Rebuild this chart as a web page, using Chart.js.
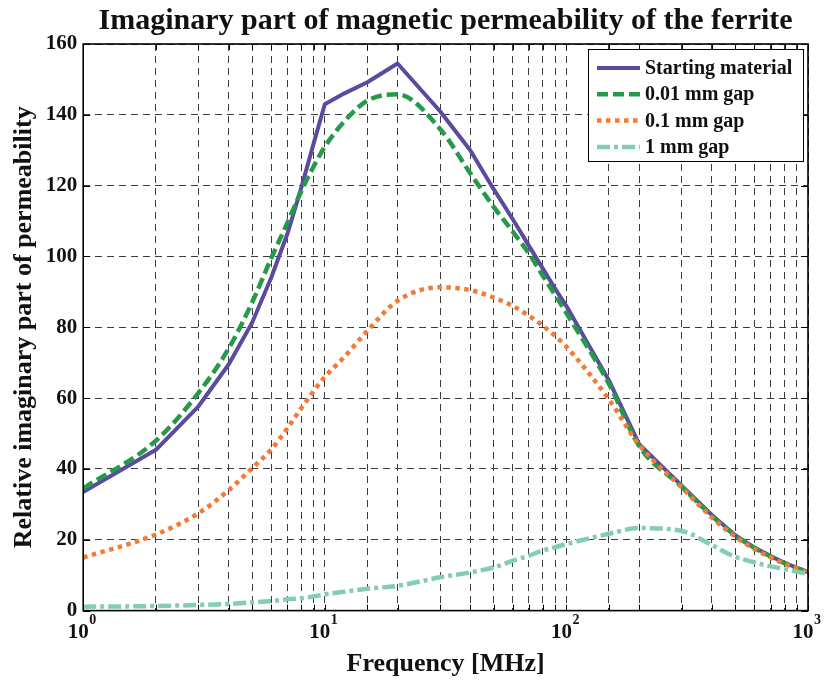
<!DOCTYPE html>
<html>
<head>
<meta charset="utf-8">
<script src="https://cdn.jsdelivr.net/npm/chart.js@4.4.1/dist/chart.umd.min.js"></script>
<style>
  html, body { margin: 0; padding: 0; background: #ffffff; }
  #c { display: block; }
</style>
</head>
<body>
<canvas id="c" width="825" height="681" style="width:825px;height:681px"></canvas>
<script>
// Frequency points (MHz) shared by all four curves
const frequencyMHz = [1, 2, 3, 4, 5, 6, 7, 8, 9, 10, 12, 15, 20, 30, 40, 50, 60, 70, 80, 90,
                      100, 150, 200, 300, 400, 500, 600, 700, 800, 900, 1000];

// Relative imaginary permeability for each sample
const startingMaterial = [33.5, 45.4, 57.7, 69.5, 81.3, 94, 106.4, 119.5, 132, 143, 146, 149.2, 154.5,
                          141, 130, 119, 110.5, 103, 96.5, 90.8, 86, 65, 47, 35.3, 27, 21.3,
                          17.8, 15.4, 13.5, 12.1, 10.9];
const gap001mm = [34.5, 48, 61.5, 74, 87, 99.5, 109.5, 118.5, 125.5, 131, 138, 144, 145.8,
                  136, 123.5, 114, 107, 100.8, 94.5, 89, 84, 64, 46.5, 35, 26.8, 21.2,
                  17.7, 15.3, 13.4, 12, 10.8];
const gap01mm = [15, 21.5, 27.5, 34, 40.2, 45.5, 51.5, 57.2, 62, 66, 71.5, 79, 87.5,
                 91.3, 90.5, 88.4, 86, 83.2, 80.4, 77.5, 74.5, 59.6, 46.8, 34.8, 26.3, 20.9,
                 17.4, 15, 13.2, 11.9, 10.7];
const gap1mm = [1.1, 1.3, 1.6, 1.9, 2.3, 2.7, 3.2, 3.5, 4, 4.6, 5.3, 6.2, 7,
                9.4, 10.8, 12.2, 14.1, 15.5, 17, 17.9, 18.8, 21.7, 23.3, 22.5, 18.5, 15.2,
                13.6, 12.5, 11.7, 11, 10.3];

const seriesNames = ['Starting material', '0.01 mm gap', '0.1 mm gap', '1 mm gap'];
const xRange = [1, 1000];
const yRange = [0, 160];
const yStep = 20;

const SERIF = "'Liberation Serif', 'Times New Roman', serif";
const INK = '#111111';

function toPoints(values) {
  return frequencyMHz.map((f, i) => ({ x: f, y: values[i] }));
}
function isDecade(v) {
  const l = Math.log10(v);
  return Math.abs(l - Math.round(l)) < 1e-9;
}

// Solid frame plus short inward tick marks on all four sides
const frameTicks = {
  id: 'frameTicks',
  afterDatasetsDraw(chart) {
    const { ctx, chartArea: a, scales } = chart;
    ctx.save();
    ctx.strokeStyle = '#000';
    ctx.lineWidth = 1;
    ctx.setLineDash([]);
    ctx.beginPath();
    scales.x.ticks.forEach(t => {
      const px = Math.round(scales.x.getPixelForValue(t.value)) + 0.5;
      ctx.moveTo(px, a.bottom); ctx.lineTo(px, a.bottom - 6);
      ctx.moveTo(px, a.top); ctx.lineTo(px, a.top + 6);
    });
    scales.y.ticks.forEach(t => {
      const py = Math.round(scales.y.getPixelForValue(t.value)) + 0.5;
      ctx.moveTo(a.left, py); ctx.lineTo(a.left + 7, py);
      ctx.moveTo(a.right, py); ctx.lineTo(a.right - 7, py);
    });
    ctx.stroke();
    ctx.lineWidth = 1.6;
    ctx.strokeRect(a.left, a.top, a.right - a.left, a.bottom - a.top);
    ctx.restore();
  }
};

// Powers of ten: superscript exponent next to each "10" label
const decadeExponents = {
  id: 'decadeExponents',
  afterDraw(chart) {
    const { ctx, scales } = chart;
    const sx = scales.x;
    const o = sx.options.ticks;
    ctx.save();
    ctx.fillStyle = INK;
    ctx.textBaseline = 'top';
    ctx.textAlign = 'left';
    sx.ticks.forEach(t => {
      if (!isDecade(t.value)) return;
      ctx.font = `bold ${o.font.size}px ${SERIF}`;
      const w = ctx.measureText('10').width;
      const cx = sx.getPixelForValue(t.value) + o.labelOffset;
      ctx.font = `bold 14px ${SERIF}`;
      ctx.fillText(String(Math.round(Math.log10(t.value))), cx + w / 2 + 0.5, sx.top + o.padding - 6);
    });
    ctx.restore();
  }
};

// Boxed legend in the upper right corner of the plot area
const boxedLegend = {
  id: 'boxedLegend',
  afterDraw(chart) {
    const { ctx, chartArea: a } = chart;
    const w = 215, h = 112;
    const left = a.right - w - 5, top = a.top + 5;
    ctx.save();
    ctx.fillStyle = '#ffffff';
    ctx.fillRect(left, top, w, h);
    ctx.strokeStyle = '#000';
    ctx.lineWidth = 1;
    ctx.setLineDash([]);
    ctx.strokeRect(left + 0.5, top + 0.5, w, h);
    ctx.font = `bold 20px ${SERIF}`;
    ctx.textBaseline = 'middle';
    ctx.textAlign = 'left';
    chart.data.datasets.forEach((ds, i) => {
      const y = top + 19 + i * 26.3;
      ctx.strokeStyle = ds.borderColor;
      ctx.lineWidth = ds.borderWidth;
      ctx.lineCap = 'butt';
      ctx.setLineDash(ds.borderDash || []);
      ctx.beginPath();
      ctx.moveTo(left + 9, y);
      ctx.lineTo(left + 52, y);
      ctx.stroke();
      ctx.setLineDash([]);
      ctx.fillStyle = INK;
      ctx.fillText(ds.label, left + 57, y + 1);
    });
    ctx.restore();
  }
};

const gridDash = [7, 5];

new Chart(document.getElementById('c'), {
  type: 'line',
  data: {
    datasets: [
      { label: seriesNames[0], data: toPoints(startingMaterial), borderColor: '#5b4a9e',
        borderWidth: 4, borderDash: [], tension: 0, order: 4 },
      { label: seriesNames[1], data: toPoints(gap001mm), borderColor: '#27994a',
        borderWidth: 4.5, borderDash: [11, 5], cubicInterpolationMode: 'monotone', order: 3 },
      { label: seriesNames[2], data: toPoints(gap01mm), borderColor: '#f47b36',
        borderWidth: 4.5, borderDash: [4.5, 4.5], cubicInterpolationMode: 'monotone', order: 2 },
      { label: seriesNames[3], data: toPoints(gap1mm), borderColor: '#84cdb1',
        borderWidth: 4.5, borderDash: [13, 4, 4, 4], cubicInterpolationMode: 'monotone', order: 1 }
    ]
  },
  options: {
    responsive: false,
    animation: false,
    devicePixelRatio: 1,
    layout: { padding: { left: 4, right: 17, top: 0, bottom: 6 } },
    elements: {
      point: { radius: 0, hoverRadius: 0 },
      line: { borderCapStyle: 'butt', borderJoinStyle: 'round', fill: false }
    },
    plugins: {
      legend: { display: false },
      tooltip: { enabled: false },
      title: {
        display: true,
        fullSize: false,
        text: 'Imaginary part of magnetic permeability of the ferrite',
        color: INK,
        font: { family: SERIF, size: 30, weight: 'bold' },
        padding: { top: 3, bottom: 5 }
      }
    },
    scales: {
      x: {
        type: 'logarithmic',
        min: xRange[0],
        max: xRange[1],
        afterFit: (scale) => { scale.paddingRight = 0; },
        ticks: {
          autoSkip: false,
          maxRotation: 0,
          minRotation: 0,
          padding: 9,
          labelOffset: -5,
          color: INK,
          font: { family: SERIF, size: 21, weight: 'bold' },
          callback: (v) => (isDecade(v) ? '10' : '')
        },
        grid: { color: '#3c3c3c', lineWidth: 1, drawTicks: false },
        border: { display: false, dash: gridDash },
        title: {
          display: true,
          text: 'Frequency [MHz]',
          color: INK,
          font: { family: SERIF, size: 26, weight: 'bold', lineHeight: 0.815 },
          padding: { top: 0, bottom: 0 }
        }
      },
      y: {
        min: yRange[0],
        max: yRange[1],
        ticks: {
          stepSize: yStep,
          padding: 6,
          color: INK,
          font: { family: SERIF, size: 21, weight: 'bold' }
        },
        grid: { color: '#3c3c3c', lineWidth: 1, drawTicks: false },
        border: { display: false, dash: gridDash },
        title: {
          display: true,
          text: 'Relative imaginary part of permeability',
          color: INK,
          font: { family: SERIF, size: 26, weight: 'bold' },
          padding: { top: 4.5, bottom: 0 }
        }
      }
    }
  },
  plugins: [frameTicks, decadeExponents, boxedLegend]
});
</script>
</body>
</html>
